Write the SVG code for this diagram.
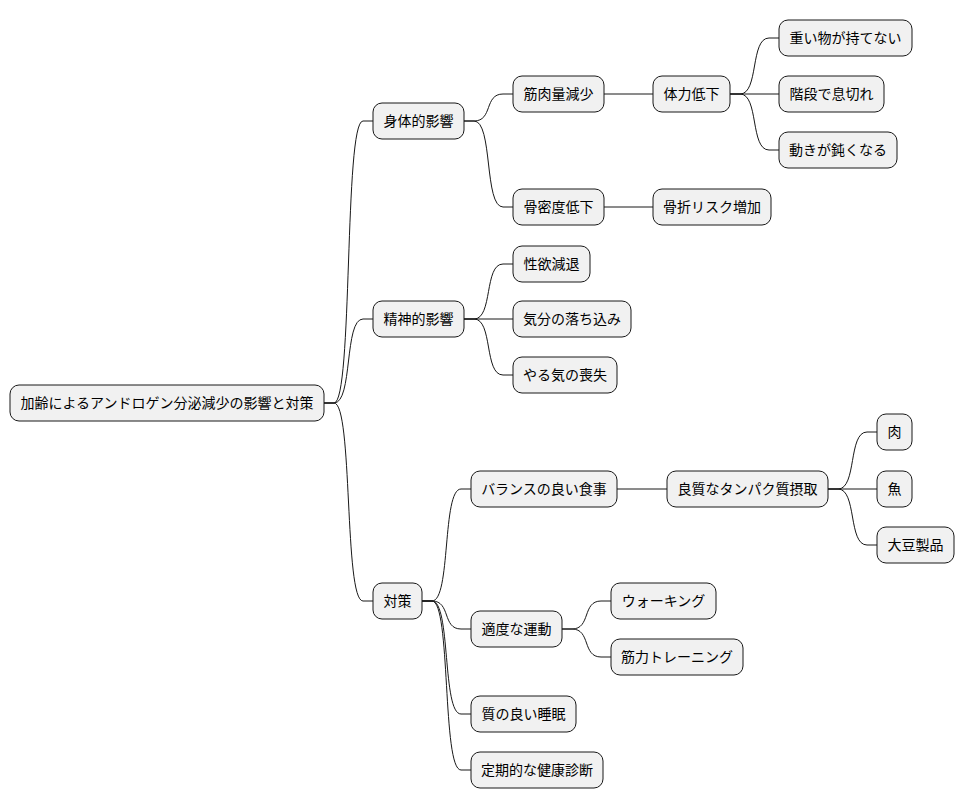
<svg xmlns="http://www.w3.org/2000/svg" width="964" height="809" viewBox="0 0 964 809">
<style>
.n rect{fill:#F1F1F1;stroke:#181818;stroke-width:1}
.n text{font-family:"Liberation Sans","Noto Sans CJK JP",sans-serif;font-size:14px;fill:#000;text-anchor:middle;dominant-baseline:central}
#c path{fill:none;stroke:#181818;stroke-width:1}
</style>
<rect width="964" height="809" fill="#fff"/>
<g id="c">
<path d="M324,403 L334,403 C353,403 344,121 363,121 L373,121"/>
<path d="M324,403 L334,403 C353,403 344,319 363,319 L373,319"/>
<path d="M324,403 L334,403 C353,403 344,601 363,601 L373,601"/>
<path d="M464,121 L474,121 C493,121 484,94 503,94 L513,94"/>
<path d="M464,121 L474,121 C493,121 484,207 503,207 L513,207"/>
<path d="M604,94 L653,94"/>
<path d="M604,207 L653,207"/>
<path d="M730,94 L740,94 C759,94 750,38 769,38 L779,38"/>
<path d="M730,94 L779,94"/>
<path d="M730,94 L740,94 C759,94 750,150 769,150 L779,150"/>
<path d="M464,319 L474,319 C493,319 484,264 503,264 L513,264"/>
<path d="M464,319 L513,319"/>
<path d="M464,319 L474,319 C493,319 484,375 503,375 L513,375"/>
<path d="M422,601 L432,601 C451,601 442,489 461,489 L471,489"/>
<path d="M422,601 L432,601 C451,601 442,629 461,629 L471,629"/>
<path d="M422,601 L432,601 C451,601 442,714 461,714 L471,714"/>
<path d="M422,601 L432,601 C451,601 442,770 461,770 L471,770"/>
<path d="M617,489 L667,489"/>
<path d="M828,489 L838,489 C857,489 848,432 867,432 L877,432"/>
<path d="M828,489 L877,489"/>
<path d="M828,489 L838,489 C857,489 848,545 867,545 L877,545"/>
<path d="M562,629 L572,629 C591,629 582,601 601,601 L611,601"/>
<path d="M562,629 L572,629 C591,629 582,657 601,657 L611,657"/>
</g>
<g id="root" class="n"><rect x="10" y="385" width="314" height="36" rx="9"/><text x="167" y="403">加齢によるアンドロゲン分泌減少の影響と対策</text></g>
<g id="n1" class="n"><rect x="373" y="103" width="91" height="36" rx="9"/><text x="418.5" y="121">身体的影響</text></g>
<g id="n2" class="n"><rect x="373" y="301" width="91" height="36" rx="9"/><text x="418.5" y="319">精神的影響</text></g>
<g id="n3" class="n"><rect x="373" y="583" width="49" height="36" rx="9"/><text x="397.5" y="601">対策</text></g>
<g id="n11" class="n"><rect x="513" y="76" width="91" height="36" rx="9"/><text x="558.5" y="94">筋肉量減少</text></g>
<g id="n12" class="n"><rect x="513" y="189" width="91" height="36" rx="9"/><text x="558.5" y="207">骨密度低下</text></g>
<g id="n111" class="n"><rect x="653" y="76" width="77" height="36" rx="9"/><text x="691.5" y="94">体力低下</text></g>
<g id="n121" class="n"><rect x="653" y="189" width="118" height="36" rx="9"/><text x="712" y="207">骨折リスク増加</text></g>
<g id="n1111" class="n"><rect x="779" y="20" width="133" height="36" rx="9"/><text x="845.5" y="38">重い物が持てない</text></g>
<g id="n1112" class="n"><rect x="779" y="76" width="105" height="36" rx="9"/><text x="831.5" y="94">階段で息切れ</text></g>
<g id="n1113" class="n"><rect x="779" y="132" width="118" height="36" rx="9"/><text x="838" y="150">動きが鈍くなる</text></g>
<g id="n21" class="n"><rect x="513" y="246" width="77" height="36" rx="9"/><text x="551.5" y="264">性欲減退</text></g>
<g id="n22" class="n"><rect x="513" y="301" width="118" height="36" rx="9"/><text x="572" y="319">気分の落ち込み</text></g>
<g id="n23" class="n"><rect x="513" y="357" width="104" height="36" rx="9"/><text x="565" y="375">やる気の喪失</text></g>
<g id="n31" class="n"><rect x="471" y="471" width="146" height="36" rx="9"/><text x="544" y="489">バランスの良い食事</text></g>
<g id="n311" class="n"><rect x="667" y="471" width="161" height="36" rx="9"/><text x="747.5" y="489">良質なタンパク質摂取</text></g>
<g id="n3111" class="n"><rect x="877" y="414" width="35" height="36" rx="9"/><text x="894.5" y="432">肉</text></g>
<g id="n3112" class="n"><rect x="877" y="471" width="35" height="36" rx="9"/><text x="894.5" y="489">魚</text></g>
<g id="n3113" class="n"><rect x="877" y="527" width="77" height="36" rx="9"/><text x="915.5" y="545">大豆製品</text></g>
<g id="n32" class="n"><rect x="471" y="611" width="91" height="36" rx="9"/><text x="516.5" y="629">適度な運動</text></g>
<g id="n321" class="n"><rect x="611" y="583" width="105" height="36" rx="9"/><text x="663.5" y="601">ウォーキング</text></g>
<g id="n322" class="n"><rect x="611" y="639" width="132" height="36" rx="9"/><text x="677" y="657">筋力トレーニング</text></g>
<g id="n33" class="n"><rect x="471" y="696" width="105" height="36" rx="9"/><text x="523.5" y="714">質の良い睡眠</text></g>
<g id="n34" class="n"><rect x="471" y="752" width="132" height="36" rx="9"/><text x="537" y="770">定期的な健康診断</text></g>
</svg>
